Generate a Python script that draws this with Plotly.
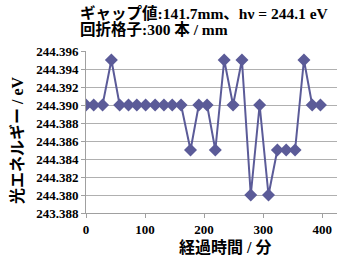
import plotly.graph_objects as go

elapsed_min = [0, 13, 28, 43, 57, 72, 86, 101, 117, 132, 146, 161, 177, 191,
               205, 219, 234, 249, 264, 279, 294, 309, 324, 339, 354, 369, 383, 397]
photon_ev = [244.390, 244.390, 244.390, 244.395, 244.390, 244.390, 244.390, 244.390,
             244.390, 244.390, 244.390, 244.390, 244.385, 244.390, 244.390, 244.385,
             244.395, 244.390, 244.395, 244.380, 244.390, 244.380, 244.385, 244.385,
             244.385, 244.395, 244.390, 244.390]
y_tickvals = [244.378, 244.380, 244.382, 244.384, 244.386, 244.388, 244.390,
              244.392, 244.394, 244.396]
y_ticktext = ["243.388", "244.380", "244.382", "244.384", "244.386", "244.388",
              "244.390", "244.392", "244.394", "244.396"]
x_tickvals = [0, 100, 200, 300, 400]

FONT = "Liberation Serif, Noto Sans CJK JP"
COLOR = "#5b5b98"

fig = go.Figure()
fig.add_trace(go.Scatter(
    x=elapsed_min, y=photon_ev, mode="lines+markers",
    line=dict(color=COLOR, width=2),
    marker=dict(symbol="diamond", size=10, color=COLOR),
    showlegend=False,
))

fig.update_layout(
    width=354, height=256,
    margin=dict(l=86, r=17, t=51, b=43),
    plot_bgcolor="white", paper_bgcolor="white",
    font=dict(family=FONT, color="black"),
    xaxis=dict(
        range=[0, 425], tickvals=x_tickvals, automargin=False,
        ticks="outside", ticklen=4, tickcolor="#a0a0a0",
        showline=True, linecolor="#a0a0a0", linewidth=1,
        showgrid=False, zeroline=False,
        tickfont=dict(size=13, family=FONT, weight="bold"),
    ),
    yaxis=dict(
        range=[244.378, 244.396], tickvals=y_tickvals, ticktext=y_ticktext,
        automargin=False,
        ticks="outside", ticklen=4, tickcolor="#a0a0a0",
        showline=True, linecolor="#a0a0a0", linewidth=1,
        showgrid=True, gridcolor="#b0b0b0", gridwidth=1, zeroline=False,
        tickfont=dict(size=13, family=FONT, weight="bold"),
    ),
    annotations=[
        dict(text="<b>ギャップ値:141.7mm、hν = 244.1 eV</b>", xref="paper", yref="paper",
             x=(78 - 86) / 251, y=(256 - 43 - 13) / 162, xanchor="left", yanchor="middle",
             showarrow=False, font=dict(size=15.5, family=FONT)),
        dict(text="<b>回折格子:300 本 / mm</b>", xref="paper", yref="paper",
             x=(78 - 86) / 251, y=(256 - 43 - 29) / 162, xanchor="left", yanchor="middle",
             showarrow=False, font=dict(size=15.5, family=FONT)),
        dict(text="<b>経過時間 / 分</b>", xref="paper", yref="paper",
             x=(225 - 86) / 251, y=(256 - 43 - 247) / 162, xanchor="center", yanchor="middle",
             showarrow=False, font=dict(size=16, family=FONT)),
        dict(text="<b>光エネルギー / eV</b>", xref="paper", yref="paper", textangle=-90,
             x=(17 - 86) / 251, y=(256 - 43 - 140) / 162, xanchor="center", yanchor="middle",
             showarrow=False, font=dict(size=16, family=FONT)),
    ],
)

fig.write_html("out.html", config={"displayModeBar": False},
               post_script="document.body.style.margin='0';")
